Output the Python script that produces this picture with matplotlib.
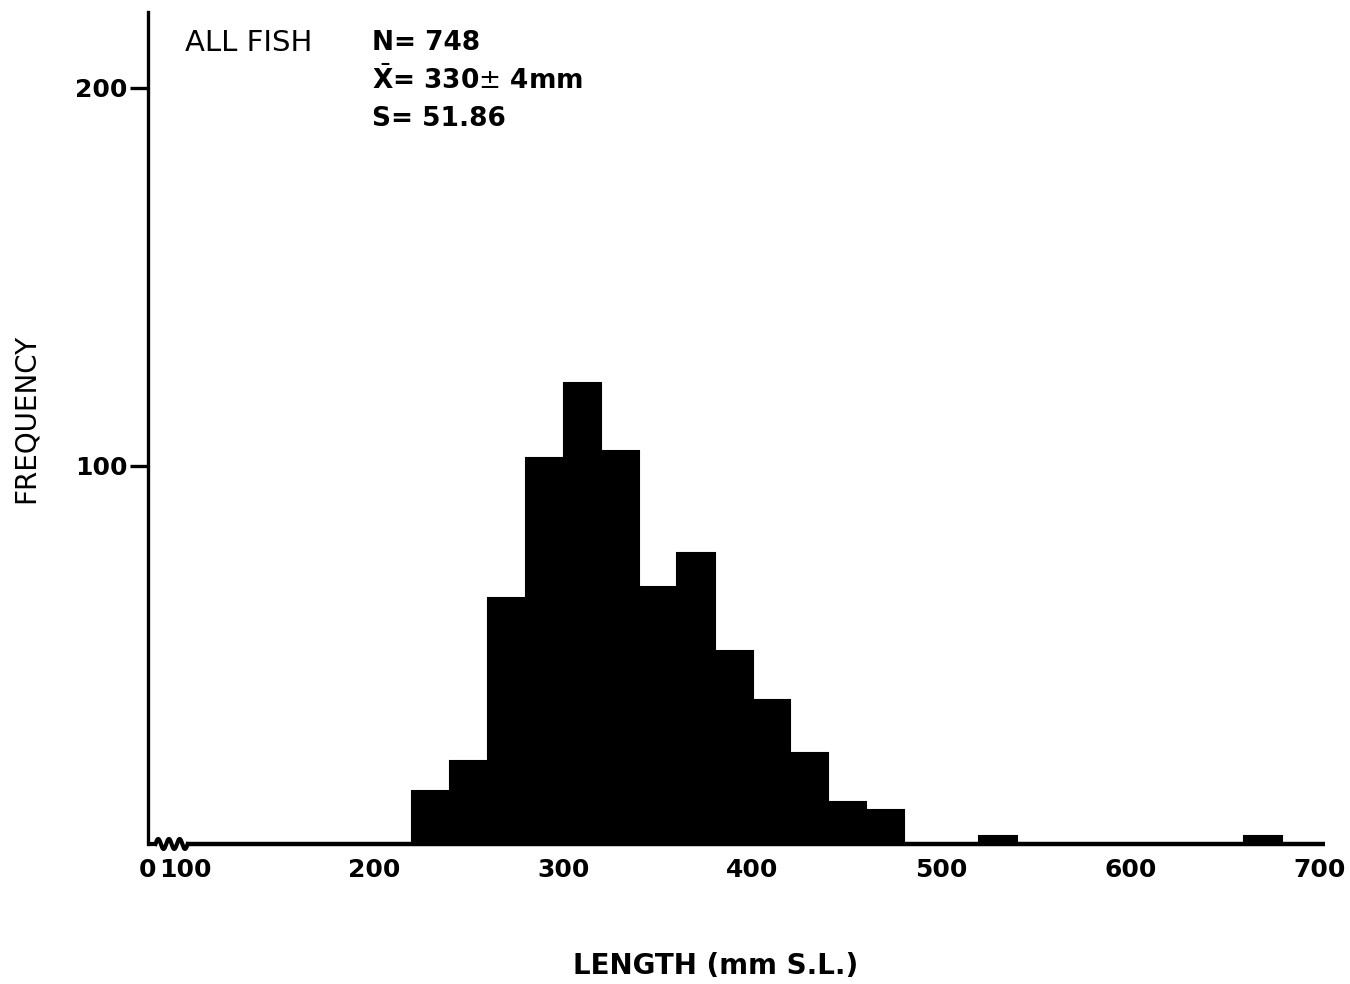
import numpy as np
import matplotlib.pyplot as plt
import matplotlib.transforms as mtransforms

# Laengdefordeling, 20 mm klasser
bin_left = [220, 240, 260, 280, 300, 320, 340, 360, 380, 400, 420, 440, 460, 520, 660]
counts = [14, 22, 65, 102, 122, 104, 68, 77, 51, 38, 24, 11, 9, 2, 2]
bin_width = 20

x_ticks = [80, 100, 200, 300, 400, 500, 600, 700]
x_labels = ['0', '100', '200', '300', '400', '500', '600', '700']
y_ticks = [100, 200]

plt.rcParams['font.family'] = ['DejaVu Sans']

fig = plt.figure(figsize=(13.5, 9.84), dpi=100)
ax = fig.add_axes([0.1096, 0.1423, 0.8719, 0.8455])

ax.bar(bin_left, counts, width=bin_width, align='edge', color='black', edgecolor='black', linewidth=1.5)

ax.set_xlim(80, 703)
ax.set_ylim(0, 220)

for s in ['top', 'right', 'bottom']:
	ax.spines[s].set_visible(False)
ax.spines['left'].set_linewidth(2.4)

# grundlinie med aksebrud mellem 0 og 100
trans = mtransforms.blended_transform_factory(ax.transData, ax.transAxes)
xs = np.linspace(84, 101, 200)
ys = 0.006 * np.sin((xs - 84) / 17 * 3 * 2 * np.pi)
ax.plot([80, 84], [0, 0], color='black', lw=3, transform=trans, clip_on=False, solid_capstyle='butt')
ax.plot(xs, ys, color='black', lw=3, transform=trans, clip_on=False)
ax.plot([101, 703], [0, 0], color='black', lw=3.2, transform=trans, clip_on=False, solid_capstyle='butt')

ax.set_xticks(x_ticks)
ax.set_xticklabels(x_labels, fontsize=18, fontweight='bold')
ax.tick_params(axis='x', length=0, pad=10)
ax.set_yticks(y_ticks)
ax.set_yticklabels([str(v) for v in y_ticks], fontsize=18, fontweight='bold')
ax.tick_params(axis='y', length=13, width=2.4, pad=2, direction='out')

fig.text(0.019, 0.575, 'FREQUENCY', rotation=90, fontsize=20, ha='center', va='center')
fig.text(0.530, 0.018, 'LENGTH (mm S.L.)', fontsize=20, fontweight='bold', ha='center', va='center')

fig.text(0.137, 0.956, 'ALL FISH', fontsize=21, ha='left', va='center')
fig.text(0.2755, 0.956, 'N= 748', fontsize=19, fontweight='bold', ha='left', va='center')
fig.text(0.2755, 0.918, r'$\bar{\mathbf{X}}$= 330$\pm$ 4mm', fontsize=19, fontweight='bold', ha='left', va='center')
fig.text(0.2755, 0.879, 'S= 51.86', fontsize=19, fontweight='bold', ha='left', va='center')

fig.savefig('out.png', dpi=100)
